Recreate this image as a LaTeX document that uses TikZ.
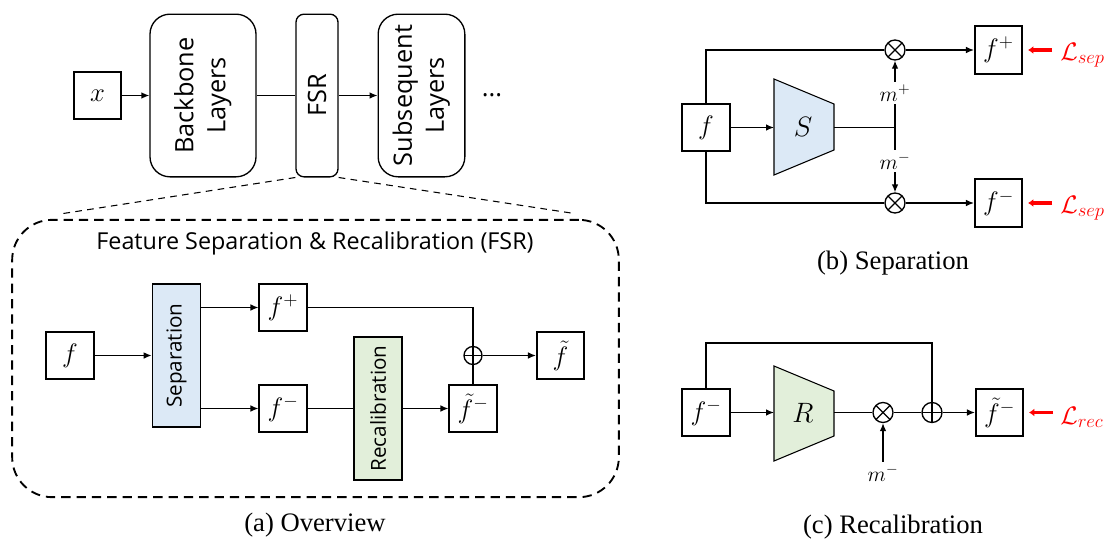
\RequirePackage{fix-cm}
\documentclass[tikz,border=0pt]{standalone}
\usepackage{fontspec}
\usepackage{graphicx}
\setsansfont{Open Sans}
\newfontfamily\fsCapFam{Liberation Serif}
\usetikzlibrary{arrows.meta,calc}
\definecolor{sepblue}{RGB}{220,233,246}
\definecolor{recgreen}{RGB}{226,239,218}
\newcommand\fsLayer{\sffamily\fontsize{19}{24}\selectfont}
\newcommand\fsTitle{\sffamily\fontsize{17.5}{20}\selectfont}
\newcommand\fsBlock{\sffamily\fontsize{15.5}{18}\selectfont}
\newcommand\fsMath{\fontsize{20}{24}\selectfont}
\newcommand\fsBig{\fontsize{21}{25}\selectfont}
\newcommand\fsSmall{\fontsize{16}{19}\selectfont}
\newcommand\fsLoss{\fontsize{19}{23}\selectfont}
\newcommand\fsSub{\fontsize{14}{14}\selectfont}
\newcommand\fsCap{\fsCapFam\fontsize{20}{24}\selectfont}
\begin{document}
\begin{tikzpicture}[x=0.75pt,y=-0.75pt,
  >={Latex[length=6pt,width=5pt]},
  every node/.style={inner sep=0pt},
  ln/.style={line width=1pt},
  thinln/.style={line width=0.7pt},
  bx/.style={draw, line width=1.3pt, minimum width=35.5pt, minimum height=35.5pt, font=\fsMath},
  rbx/.style={draw, line width=1pt, rounded corners=15pt, font=\fsLayer},
  blockbox/.style={draw, line width=1.3pt, minimum width=36pt, minimum height=107pt, font=\fsBlock},
  opl/.style={draw, circle, line width=1pt, minimum size=13.5pt,
    path picture={\draw[line width=1pt] (path picture bounding box.north) -- (path picture bounding box.south) (path picture bounding box.west) -- (path picture bounding box.east);}},
  otm/.style={draw, circle, line width=1pt, minimum size=15pt,
    path picture={\draw[line width=1pt] (path picture bounding box.north west) -- (path picture bounding box.south east) (path picture bounding box.north east) -- (path picture bounding box.south west);}},
  lossarr/.style={red, line width=2.4pt, -{Latex[length=4pt,width=6pt]}},
  losslabel/.style={red, font=\fsLoss, anchor=base west},
  mlabel/.style={font=\fsSmall, inner sep=2pt},
  captionnode/.style={font=\fsCap}
]
\useasboundingbox (0,0) rectangle (1112,546);

% ---------- (a) top row ----------
\node[bx] (xin) at (97.5,95.5) {$x$};
\node[rbx, minimum width=79.5pt, minimum height=122pt] (bb) at (203,95.5)
  {\rotatebox{90}{\begin{tabular}{@{}c@{}}Backbone\\Layers\end{tabular}}};
\node[rbx, rounded corners=6pt, minimum width=31.5pt, minimum height=122pt] (fsr) at (317,95.5)
  {\rotatebox{90}{FSR}};
\node[rbx, minimum width=65pt, minimum height=122pt] (sub) at (421.5,95.5)
  {\rotatebox{90}{\begin{tabular}{@{}c@{}}Subsequent\\Layers\end{tabular}}};
\node[font=\fsLayer] (dots) at (492,95) {...};
\draw[->,ln] (xin) -- (bb);
\draw[ln] (bb) -- (fsr);
\draw[->,ln] (fsr) -- (sub);

\coordinate (dl) at (60,214);
\coordinate (dr) at (571,213);
\draw[line width=0.8pt, dash pattern=on 5pt off 4pt] (fsr.south west) -- (dl);
\draw[line width=0.8pt, dash pattern=on 5pt off 4pt] (fsr.south east) -- (dr);

% ---------- (a) FSR box ----------
\node[draw, line width=1.4pt, dash pattern=on 7pt off 4.5pt, rounded corners=30pt,
  minimum width=455pt, minimum height=208pt] (fsrbox) at (315.5,358.5) {};
\node[font=\fsTitle] (title) at (315,243) {Feature Separation \& Recalibration (FSR)};

\node[bx] (fa) at (70,355.5) {$f$};
\node[blockbox, fill=sepblue] (sep) at (176.5,355.5) {\rotatebox{90}{Separation}};
\node[bx] (fp) at (283,307.5) {$f^{+}$};
\node[bx] (fm) at (283,408.5) {$f^{-}$};
\node[blockbox, fill=recgreen] (rec) at (378,408.5) {\rotatebox{90}{Recalibration}};
\node[bx] (ftm) at (473,408.5) {$\tilde{f}^{-}$};
\node[opl] (opa) at (473,355.5) {};
\node[bx] (ft) at (560.5,355.5) {$\tilde{f}$};

\draw[->,ln] (fa) -- (sep);
\draw[->,ln] (fp.west -| sep.east) -- (fp.west);
\draw[->,ln] (fm.west -| sep.east) -- (fm.west);
\draw[ln] (fm) -- (rec);
\draw[->,ln] (rec) -- (ftm);
\draw[ln] (fp.east) -| (opa.north);
\draw[ln] (ftm.north) -- (opa.south);
\draw[->,ln] (opa) -- (ft);

\node[captionnode] (capa) at (315,525) {(a) Overview};

% ---------- (b) Separation ----------
\node[bx] (fb) at (706,127.5) {$f$};
\draw[line width=0.8pt, fill=sepblue] (774,79) -- (834,104) -- (834,150) -- (774,175) -- cycle;
\node[font=\fsBig] (S) at (803,127) {$S$};
\coordinate (Sin) at (774,127.5);
\coordinate (Sout) at (834,127.5);
\coordinate (jn) at (895,127.5);
\node[otm] (otp) at (895,50) {};
\node[otm] (otn) at (895,203) {};
\node[bx] (fbp) at (998.5,50) {$f^{+}$};
\node[bx] (fbm) at (998.5,203) {$f^{-}$};
\node[mlabel] (mp) at (895,93) {$m^{+}$};
\node[mlabel] (mm) at (895,161) {$m^{-}$};

\draw[ln] (fb.north) |- (otp);
\draw[->,ln] (otp) -- (fbp);
\draw[ln] (fb.south) |- (otn);
\draw[->,ln] (otn) -- (fbm);
\draw[->,ln] (fb) -- (Sin);
\draw[ln] (Sout) -- (jn);
\draw[ln] (mp) -- (mm);
\draw[->,ln] (mp) -- (otp);
\draw[->,ln] (mm) -- (otn);

\node[losslabel] (Lp) at (1060,60) {$\mathcal{L}_{\hbox{\fsSub$sep$}}$};
\node[losslabel] (Lm) at (1060,213) {$\mathcal{L}_{\hbox{\fsSub$sep$}}$};
\draw[lossarr] ($(fbp.east)+(29,0)$) -- ($(fbp.east)+(5,0)$);
\draw[lossarr] ($(fbm.east)+(29,0)$) -- ($(fbm.east)+(5,0)$);

\node[captionnode] (capb) at (893,263) {(b) Separation};

% ---------- (c) Recalibration ----------
\node[bx] (fc) at (706,412.5) {$f^{-}$};
\draw[line width=0.8pt, fill=recgreen] (774,366) -- (834,391) -- (834,436) -- (774,461) -- cycle;
\node[font=\fsBig] (R) at (803,413) {$R$};
\coordinate (Rin) at (774,412.5);
\coordinate (Rout) at (834,412.5);
\node[otm] (otc) at (883,412.5) {};
\node[opl, minimum size=15pt] (opc) at (932,412.5) {};
\node[bx] (ftc) at (999.5,412.5) {$\tilde{f}^{-}$};
\node[mlabel] (mc) at (883,473) {$m^{-}$};
\coordinate (lp) at (932,343);

\draw[ln] (fc.north) |- (lp) -- (opc.north);
\draw[->,ln] (fc) -- (Rin);
\draw[thinln] (Rout) -- (otc);
\draw[thinln] (otc) -- (opc);
\draw[->,ln] (opc) -- (ftc);
\draw[->,ln] (mc) -- (otc);

\node[losslabel] (Lr) at (1060,424) {$\mathcal{L}_{\hbox{\fsSub$rec$}}$};
\draw[lossarr] ($(ftc.east)+(29,0)$) -- ($(ftc.east)+(5,0)$);

\node[captionnode] (capc) at (893,527) {(c) Recalibration};
\end{tikzpicture}
\end{document}
